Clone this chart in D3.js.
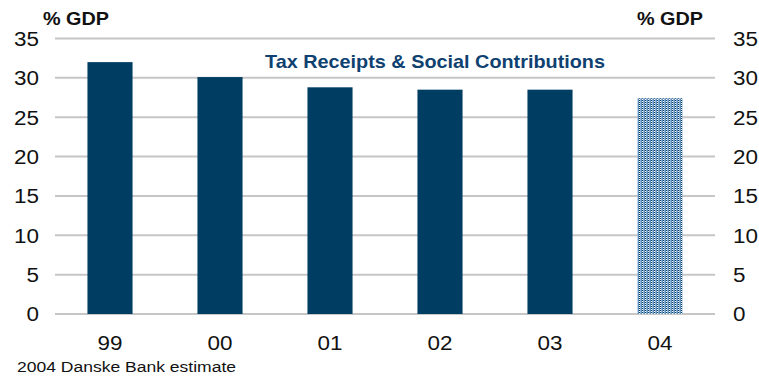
<!DOCTYPE html>
<html><head><meta charset="utf-8">
<script src="https://cdn.jsdelivr.net/npm/d3@7"></script>
<style>body{margin:0;background:#fff}svg{display:block}</style>
</head><body><svg id="c" width="759" height="376"></svg>
<script>
const categories = ["99","00","01","02","03","04"];
const values = [32.0, 30.1, 28.8, 28.5, 28.5, 27.4];
const estimate = [false,false,false,false,false,true];
const yTicks = [0,5,10,15,20,25,30,35];

const svg = d3.select("#c");
const m = {l:55, r:44, t:38.5, b:62};
const W = 759, H = 376;
const x = d3.scaleBand().domain(categories).range([m.l, W-m.r]).paddingInner(0.59).paddingOuter(0.295);
const y = d3.scaleLinear().domain([0,35]).range([H-m.b, m.t]);
const navy = "#003d63";
const font = "Liberation Sans, Arial, sans-serif";
const stretch = 1.15;
function widen(sel){
  sel.each(function(){
    const n = this.getComputedTextLength();
    d3.select(this).attr("textLength", n*stretch).attr("lengthAdjust","spacingAndGlyphs");
  });
}

const defs = svg.append("defs");
const p = defs.append("pattern").attr("id","hatch").attr("patternUnits","userSpaceOnUse").attr("width",3).attr("height",2);
p.append("rect").attr("width",3).attr("height",2).attr("fill","#8db3d8");
p.append("rect").attr("x",0).attr("y",0).attr("width",1).attr("height",1).attr("fill",navy);
p.append("rect").attr("x",0).attr("y",1).attr("width",1).attr("height",1).attr("fill","#ffffff");
p.append("rect").attr("x",2).attr("y",0).attr("width",1).attr("height",2).attr("fill","#5f8dba");

// gridlines
svg.append("g").selectAll("line").data(yTicks).join("line")
  .attr("x1", m.l).attr("x2", W-m.r)
  .attr("y1", d=>y(d)).attr("y2", d=>y(d))
  .attr("stroke","#c6c6c6").attr("stroke-width",2);

// bars
svg.append("g").selectAll("rect").data(categories).join("rect")
  .attr("x", d=>x(d)).attr("width", x.bandwidth())
  .attr("y", (d,i)=>y(values[i])).attr("height", (d,i)=>y(0)-y(values[i]))
  .attr("fill", (d,i)=> estimate[i] ? "url(#hatch)" : navy);

// left axis
const left = svg.append("g").attr("transform",`translate(${m.l},0)`)
  .call(d3.axisLeft(y).tickValues(yTicks).tickSize(0).tickPadding(16));
left.select(".domain").remove();
left.selectAll("text").attr("font-family",font).attr("font-size",19.5).attr("fill","#111").attr("dy","0.35em").call(widen);

const right = svg.append("g").attr("transform",`translate(${W-m.r},0)`)
  .call(d3.axisRight(y).tickValues(yTicks).tickSize(0).tickPadding(18));
right.select(".domain").remove();
right.selectAll("text").attr("font-family",font).attr("font-size",19.5).attr("fill","#111").attr("dy","0.35em").call(widen);

// bottom axis
const bottom = svg.append("g").attr("transform",`translate(0,${H-m.b})`)
  .call(d3.axisBottom(x).tickSize(0).tickPadding(22));
bottom.select(".domain").remove();
bottom.selectAll("text").attr("font-family",font).attr("font-size",19.5).attr("fill","#111").call(widen);

// unit labels
svg.append("text").attr("x",43).attr("y",25).attr("font-family",font).attr("font-size",18).attr("font-weight","bold").attr("fill","#111").attr("textLength",66).attr("lengthAdjust","spacingAndGlyphs").text("% GDP");
svg.append("text").attr("x",637).attr("y",25).attr("font-family",font).attr("font-size",18).attr("font-weight","bold").attr("fill","#111").attr("textLength",66).attr("lengthAdjust","spacingAndGlyphs").text("% GDP");

// title
svg.append("text").attr("x",265).attr("y",68).attr("font-family",font).attr("font-size",19).attr("font-weight","bold")
  .attr("fill","#0e4170").attr("textLength",340).attr("lengthAdjust","spacingAndGlyphs").text("Tax Receipts & Social Contributions");

// footnote
svg.append("text").attr("x",17).attr("y",372).attr("font-family",font).attr("font-size",15.5).attr("fill","#111").attr("textLength",219).attr("lengthAdjust","spacingAndGlyphs").text("2004 Danske Bank estimate");
</script></body></html>
